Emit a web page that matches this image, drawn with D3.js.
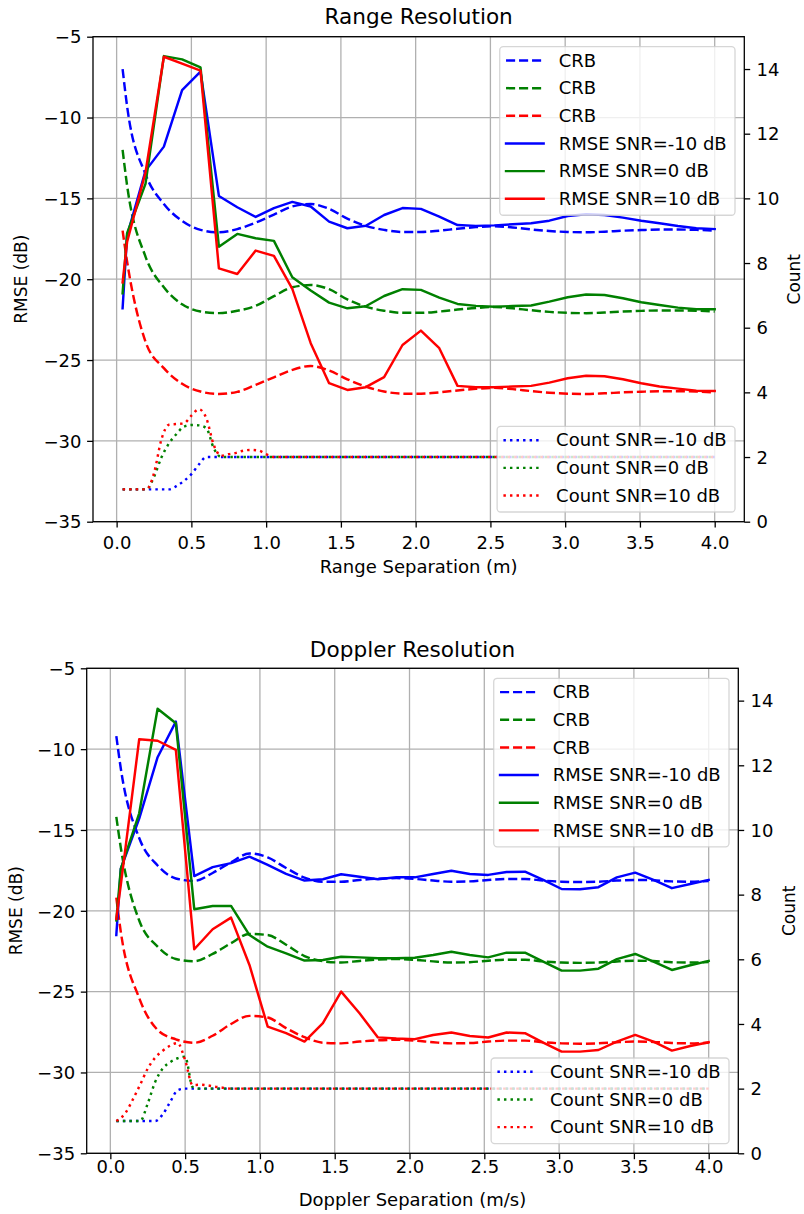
<!DOCTYPE html>
<html>
<head>
<meta charset="utf-8">
<script src="https://cdn.jsdelivr.net/npm/d3@7"></script>
<style>
  html, body { margin: 0; padding: 0; background: #ffffff; }
  svg text { font-family: "DejaVu Sans", sans-serif; fill: #000000; }
</style>
</head>
<body>
<svg id="fig" width="804" height="1214"></svg>
<script>
// ---- separation grid shared by the CRB and RMSE curves ----
const separation = [0.04, 0.07, 0.193, 0.316, 0.438, 0.561, 0.684, 0.807, 0.93, 1.052,
  1.175, 1.298, 1.421, 1.543, 1.666, 1.789, 1.912, 2.035, 2.158, 2.28,
  2.403, 2.526, 2.649, 2.772, 2.894, 3.017, 3.14, 3.263, 3.386, 3.509,
  3.631, 3.754, 3.877, 4.0];

// separation grid for the detection counts
const countSeparation = [0.04, 0.1, 0.15, 0.2, 0.25, 0.3, 0.35, 0.4, 0.45, 0.5, 0.55, 0.6,
  0.65, 0.7, 0.75, 0.8, 0.85, 0.9, 0.95, 1.0, 1.05, 1.5, 2.0, 2.5, 3.0, 3.5, 4.0];

// ---- range resolution (dB) ----
const rangeCrbM10 = [-7.0, -9.3, -13.5, -15.35, -16.4, -16.95, -17.1, -16.9, -16.5, -16.0,
  -15.5, -15.35, -15.65, -16.25, -16.7, -16.95, -17.08, -17.08, -17.0, -16.88,
  -16.78, -16.72, -16.8, -16.92, -17.02, -17.08, -17.1, -17.06, -17.0, -16.96,
  -16.93, -16.93, -16.95, -17.0];
const rangeCrb0 = [-12.0, -14.2, -18.6, -20.5, -21.55, -22.0, -22.1, -21.95, -21.65, -21.05,
  -20.5, -20.36, -20.62, -21.25, -21.7, -21.95, -22.08, -22.08, -22.0, -21.88,
  -21.78, -21.72, -21.8, -21.92, -22.02, -22.08, -22.1, -22.06, -22.0, -21.96,
  -21.93, -21.93, -21.95, -22.0];
const rangeCrb10 = [-17.0, -18.9, -23.86, -25.5, -26.47, -26.95, -27.1, -26.97, -26.54, -26.07,
  -25.61, -25.37, -25.65, -26.19, -26.64, -26.95, -27.08, -27.08, -27.0, -26.88,
  -26.78, -26.72, -26.8, -26.92, -27.02, -27.08, -27.1, -27.06, -27.0, -26.96,
  -26.93, -26.93, -26.95, -27.0];
const rangeRmseM10 = [-21.8, -17.3, -13.3, -11.8, -8.3, -7.16, -14.85, -15.55, -16.15, -15.6,
  -15.22, -15.5, -16.44, -16.85, -16.69, -16.03, -15.6, -15.65, -16.13, -16.65,
  -16.7, -16.67, -16.6, -16.54, -16.38, -16.09, -15.98, -16.03, -16.19, -16.38,
  -16.54, -16.71, -16.85, -16.9];
const rangeRmse0 = [-20.87, -17.16, -14.1, -6.2, -6.4, -6.9, -17.99, -17.2, -17.47, -17.63,
  -19.88, -20.7, -21.45, -21.8, -21.67, -21.04, -20.62, -20.66, -21.14, -21.53,
  -21.65, -21.7, -21.66, -21.63, -21.39, -21.12, -20.95, -20.98, -21.18, -21.43,
  -21.6, -21.76, -21.86, -21.86];
const rangeRmse10 = [-20.2, -17.7, -13.4, -6.24, -6.67, -7.1, -19.33, -19.68, -18.23, -18.56,
  -20.6, -23.96, -26.43, -26.85, -26.68, -26.06, -24.07, -23.18, -24.27, -26.6,
  -26.68, -26.68, -26.64, -26.6, -26.4, -26.13, -25.97, -26.0, -26.19, -26.44,
  -26.64, -26.77, -26.9, -26.92];
const rangeCountM10 = [1, 1, 1, 1, 1, 1, 1.0, 1.1, 1.26, 1.47, 1.77, 2.0, 2, 2, 2, 2, 2, 2,
  2, 2, 2, 2, 2, 2, 2, 2, 2];
const rangeCount0 = [1, 1, 1, 1, 1.39, 1.99, 2.42, 2.71, 2.94, 2.99, 2.98, 2.89, 2.27, 2.0,
  2, 2, 2, 2, 2, 2, 2, 2, 2, 2, 2, 2, 2];
const rangeCount10 = [1, 1, 1, 1.0, 1.5, 2.55, 3.0, 3.02, 3.04, 3.28, 3.48, 3.2, 2.37, 2.04,
  2.09, 2.13, 2.2, 2.22, 2.2, 2.09, 2.0, 2, 2, 2, 2, 2, 2];

// ---- Doppler resolution (dB) ----
const dopplerCrbM10 = [-9.19, -11.2, -15.5, -17.2, -18.0, -18.15, -17.66, -17.0, -16.45, -16.7,
  -17.35, -17.95, -18.2, -18.2, -18.09, -18.01, -17.98, -18.03, -18.13, -18.2,
  -18.18, -18.09, -18.03, -18.03, -18.13, -18.2, -18.22, -18.2, -18.13, -18.09,
  -18.11, -18.18, -18.2, -18.16];
const dopplerCrb0 = [-14.19, -16.1, -20.6, -22.22, -22.98, -23.12, -22.67, -22.0, -21.43, -21.5,
  -22.1, -22.8, -23.12, -23.2, -23.1, -23.02, -22.98, -23.03, -23.13, -23.2,
  -23.18, -23.09, -23.03, -23.03, -23.13, -23.2, -23.22, -23.2, -23.13, -23.09,
  -23.11, -23.18, -23.2, -23.16];
const dopplerCrb10 = [-19.19, -21.3, -25.4, -27.37, -27.95, -28.16, -27.73, -27.0, -26.5, -26.6,
  -27.26, -27.82, -28.16, -28.2, -28.09, -28.01, -27.98, -28.03, -28.13, -28.2,
  -28.18, -28.09, -28.03, -28.03, -28.13, -28.2, -28.22, -28.2, -28.13, -28.09,
  -28.11, -28.18, -28.2, -28.16];
const dopplerRmseM10 = [-21.5, -17.4, -14.3, -10.5, -8.3, -17.85, -17.3, -17.05, -16.65, -17.16,
  -17.72, -18.13, -18.05, -17.74, -17.89, -18.05, -17.93, -17.93, -17.72, -17.52,
  -17.72, -17.78, -17.6, -17.58, -18.09, -18.65, -18.67, -18.54, -17.93, -17.64,
  -18.09, -18.6, -18.34, -18.09];
const dopplerRmse0 = [-20.6, -17.4, -13.97, -7.5, -8.4, -19.9, -19.7, -19.7, -21.5, -22.22,
  -22.63, -23.08, -23.04, -22.84, -22.88, -22.93, -22.93, -22.9, -22.73, -22.53,
  -22.73, -22.88, -22.59, -22.59, -23.14, -23.7, -23.7, -23.58, -22.99, -22.67,
  -23.14, -23.66, -23.37, -23.1];
const dopplerRmse10 = [-20.5, -18.4, -9.39, -9.48, -10.05, -22.38, -21.14, -20.42, -23.35, -27.16,
  -27.57, -28.09, -26.95, -25.0, -26.34, -27.83, -27.9, -27.94, -27.68, -27.53,
  -27.74, -27.84, -27.53, -27.57, -28.15, -28.71, -28.71, -28.61, -28.09, -27.68,
  -28.09, -28.65, -28.36, -28.13];
const dopplerCountM10 = [1, 1, 1, 1, 1, 1.0, 1.2, 1.59, 1.95, 2.0, 2, 2, 2, 2, 2, 2, 2, 2,
  2, 2, 2, 2, 2, 2, 2, 2, 2];
const dopplerCount0 = [1, 1, 1, 1.0, 1.54, 2.21, 2.62, 2.82, 2.94, 2.99, 2.05, 2.0, 2, 2,
  2, 2, 2, 2, 2, 2, 2, 2, 2, 2, 2, 2, 2];
const dopplerCount10 = [1.0, 1.24, 1.66, 2.13, 2.62, 2.96, 3.17, 3.33, 3.41, 2.88, 2.11, 2.12,
  2.1, 2.06, 2.03, 2.0, 2, 2, 2, 2, 2, 2, 2, 2, 2, 2, 2];

// ---- ticks and labels ----
const separationTicks = [0, 0.5, 1.0, 1.5, 2.0, 2.5, 3.0, 3.5, 4.0];
const rmseTicks = [-35, -30, -25, -20, -15, -10, -5];
const countTicks = [0, 2, 4, 6, 8, 10, 12, 14];
const snrLabels = ["-10", "0", "10"];
const seriesColors = ["#0000ff", "#008000", "#ff0000"];

// ---- styling ----
const FS = 17;          // base font size
const SX = 1.06;        // horizontal glyph stretch
const LW = 2.45;        // data line width
const AXW = 1.3;        // spine / grid / tick width
const TICK = 5.9;
const DASH = "9.1,3.9";
const DOT = "2.45,4.1";

const svg = d3.select("#fig");

function hText(parent, str, x, y, anchor, size) {
  return parent.append("text")
    .attr("transform", `translate(${x},${y}) scale(${SX},1)`)
    .attr("text-anchor", anchor || "start")
    .attr("font-size", size || FS)
    .text(str);
}
function vText(parent, str, x, y) {
  return parent.append("text")
    .attr("transform", `translate(${x},${y}) rotate(-90)`)
    .attr("text-anchor", "middle")
    .attr("font-size", FS)
    .text(str);
}
const minusFmt = d => (d < 0 ? "\u2212" + Math.abs(d) : String(d));

function drawLegend(parent, items, boxRight, anchorY, fromTop) {
  const rowH = 27.65, padTop = 13.8, padBottom = 16.5;
  const textOff = 59, rightPad = 8.3, h0 = 6.3, h1 = 43.9;
  const boxH = padTop + (items.length - 1) * rowH + padBottom;
  const boxTop = fromTop ? anchorY : anchorY - boxH;
  const lg = parent.append("g");
  const frame = lg.append("rect");
  const texts = [];
  items.forEach((it, i) => {
    const cy = boxTop + padTop + i * rowH;
    texts.push({ it, cy, el: hText(lg, it.label, 0, cy + 6.2, "start") });
  });
  const maxW = d3.max(texts, t => t.el.node().getComputedTextLength()) * SX;
  const boxW = textOff + maxW + rightPad;
  const boxLeft = boxRight - boxW;
  frame.attr("x", boxLeft).attr("y", boxTop).attr("width", boxW).attr("height", boxH)
    .attr("rx", 3.5).attr("fill", "#ffffff").attr("fill-opacity", 0.8)
    .attr("stroke", "#cccccc").attr("stroke-opacity", 0.8).attr("stroke-width", AXW);
  texts.forEach(t => {
    t.el.attr("transform", `translate(${boxLeft + textOff},${t.cy + 6.2}) scale(${SX},1)`);
    lg.insert("line", "text")
      .attr("x1", boxLeft + h0).attr("x2", boxLeft + h1)
      .attr("y1", t.cy).attr("y2", t.cy)
      .attr("stroke", t.it.color).attr("stroke-width", LW)
      .attr("stroke-dasharray", t.it.dash || null)
      .attr("stroke-linecap", t.it.dash ? "butt" : "square");
  });
}

const panels = [
  {
    title: "Range Resolution", xlabel: "Range Separation (m)",
    box: { l: 93, r: 744.3, t: 36.7, b: 521.7 },
    titleY: 24.3, xTickY: 549, xLabelY: 573.3, yLabelX: 27.4, cLabelX: 800,
    crb: [rangeCrbM10, rangeCrb0, rangeCrb10],
    rmse: [rangeRmseM10, rangeRmse0, rangeRmse10],
    count: [rangeCountM10, rangeCount0, rangeCount10]
  },
  {
    title: "Doppler Resolution", xlabel: "Doppler Separation (m/s)",
    box: { l: 86.7, r: 738.3, t: 668.3, b: 1153.3 },
    titleY: 656.7, xTickY: 1173, xLabelY: 1206, yLabelX: 22.4, cLabelX: 795,
    crb: [dopplerCrbM10, dopplerCrb0, dopplerCrb10],
    rmse: [dopplerRmseM10, dopplerRmse0, dopplerRmse10],
    count: [dopplerCountM10, dopplerCount0, dopplerCount10]
  }
];

panels.forEach(p => {
  const { l, r, t, b } = p.box;
  const x = d3.scaleLinear().domain([-0.158, 4.198]).range([l, r]);
  const y = d3.scaleLinear().domain([-35, -5]).range([b, t]);
  const yc = d3.scaleLinear().domain([0, 15]).range([b, t]);
  const g = svg.append("g");

  // grid
  const grid = g.append("g").attr("stroke", "#b0b0b0").attr("stroke-width", AXW);
  grid.selectAll("line.v").data(separationTicks).join("line").attr("class", "v")
    .attr("x1", d => x(d)).attr("x2", d => x(d)).attr("y1", t).attr("y2", b);
  grid.selectAll("line.h").data(rmseTicks).join("line").attr("class", "h")
    .attr("x1", l).attr("x2", r).attr("y1", d => y(d)).attr("y2", d => y(d));

  // CRB (dashed) and RMSE (solid) on the dB axis
  const smooth = d3.line().x((d, i) => x(separation[i])).y(d => y(d)).curve(d3.curveMonotoneX);
  const straight = d3.line().x((d, i) => x(separation[i])).y(d => y(d));
  p.crb.forEach((s, k) => {
    g.append("path").attr("d", smooth(s)).attr("fill", "none")
      .attr("stroke", seriesColors[k]).attr("stroke-width", LW)
      .attr("stroke-dasharray", DASH).attr("stroke-linejoin", "round");
  });
  p.rmse.forEach((s, k) => {
    g.append("path").attr("d", straight(s)).attr("fill", "none")
      .attr("stroke", seriesColors[k]).attr("stroke-width", LW)
      .attr("stroke-linejoin", "round").attr("stroke-linecap", "square");
  });

  drawLegend(g, [
    ...seriesColors.map(c => ({ label: "CRB", color: c, dash: DASH })),
    ...seriesColors.map((c, k) => ({ label: `RMSE SNR=${snrLabels[k]} dB`, color: c }))
  ], r - 9.3, t + 10, true);

  // detection counts (dotted) on the twin axis
  const countLine = d3.line().x((d, i) => x(countSeparation[i])).y(d => yc(d)).curve(d3.curveMonotoneX);
  p.count.forEach((s, k) => {
    g.append("path").attr("d", countLine(s)).attr("fill", "none")
      .attr("stroke", seriesColors[k]).attr("stroke-width", LW)
      .attr("stroke-dasharray", DOT);
  });

  drawLegend(g, seriesColors.map((c, k) => ({ label: `Count SNR=${snrLabels[k]} dB`, color: c, dash: DOT })),
    r - 9.3, b - 9.7, false);

  // spines
  g.append("rect").attr("x", l).attr("y", t).attr("width", r - l).attr("height", b - t)
    .attr("fill", "none").attr("stroke", "#000").attr("stroke-width", AXW);

  // axes
  const styleAxis = sel => {
    sel.attr("font-family", null).attr("font-size", null);
    sel.select(".domain").remove();
    sel.selectAll(".tick line").attr("stroke", "#000").attr("stroke-width", AXW);
    sel.selectAll(".tick text").attr("font-size", FS).attr("dy", null);
  };
  const ax = g.append("g").attr("transform", `translate(0,${b})`)
    .call(d3.axisBottom(x).tickValues(separationTicks).tickFormat(d3.format(".1f"))
      .tickSize(TICK).tickSizeOuter(0))
    .call(styleAxis);
  ax.selectAll(".tick text").attr("y", p.xTickY - b).attr("transform", `scale(${SX},1)`);

  const ay = g.append("g").attr("transform", `translate(${l},0)`)
    .call(d3.axisLeft(y).tickValues(rmseTicks).tickFormat(minusFmt).tickSize(TICK).tickSizeOuter(0))
    .call(styleAxis);
  ay.selectAll(".tick text").attr("x", -11.6 / SX).attr("y", 6.2).attr("transform", `scale(${SX},1)`);

  const ac = g.append("g").attr("transform", `translate(${r},0)`)
    .call(d3.axisRight(yc).tickValues(countTicks).tickFormat(d3.format("d")).tickSize(TICK).tickSizeOuter(0))
    .call(styleAxis);
  ac.selectAll(".tick text").attr("x", 12.2 / SX).attr("y", 6.2).attr("transform", `scale(${SX},1)`);

  // titles and axis labels
  hText(g, p.title, (l + r) / 2, p.titleY, "middle", FS * 1.2);
  hText(g, p.xlabel, (l + r) / 2, p.xLabelY, "middle");
  vText(g, "RMSE (dB)", p.yLabelX, (t + b) / 2);
  vText(g, "Count", p.cLabelX, (t + b) / 2);
});
</script>
</body>
</html>
